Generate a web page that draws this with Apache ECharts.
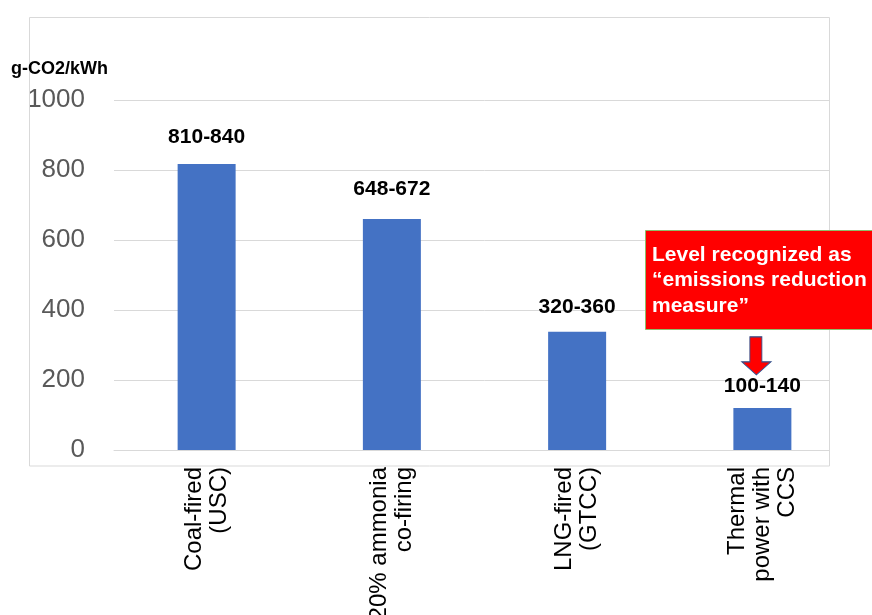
<!DOCTYPE html>
<html>
<head>
<meta charset="utf-8">
<script src="https://cdn.jsdelivr.net/npm/echarts@6/dist/echarts.min.js"></script>
<style>
html,body{margin:0;padding:0;background:#fff;}
#chart{width:872px;height:615px;}
</style>
</head>
<body>
<div id="chart"></div>
<script>
const categories = ["Coal-fired\n(USC)", "20% ammonia\nco-firing", "LNG-fired\n(GTCC)", "Thermal\npower with\nCCS"];
const emissions = [817, 660, 338, 120];
const rangeLabels = ["810-840", "648-672", "320-360", "100-140"];
const yTicks = { min: 0, max: 1000, interval: 200 };
const unitLabel = "g-CO2/kWh";
const calloutText = "Level recognized as\n\u201cemissions reduction\nmeasure\u201d";
const arrowTarget = { category: 3, value: 269 };

const FONT = "'Liberation Sans', Arial, sans-serif";
const labelGap = [16, 19, 14, 11];
const chart = echarts.init(document.getElementById('chart'), null, { renderer: 'canvas' });

const option = {
  animation: false,
  backgroundColor: '#ffffff',
  grid: { left: 114, top: 100, width: 741, height: 350, containLabel: false, outerBoundsMode: 'none' },
  xAxis: {
    type: 'category',
    data: categories,
    axisLine: { show: true, lineStyle: { color: '#d9d9d9', width: 1 } },
    axisTick: { show: false },
    axisLabel: {
      rotate: 90,
      margin: 17,
      interval: 0,
      fontFamily: FONT,
      fontSize: 24,
      lineHeight: 25,
      color: '#000000'
    }
  },
  yAxis: {
    type: 'value',
    min: yTicks.min,
    max: yTicks.max,
    interval: yTicks.interval,
    axisLine: { show: false },
    axisTick: { show: false },
    axisLabel: { margin: 29, fontFamily: FONT, fontSize: 26, color: '#595959', formatter: v => String(v) },
    splitLine: { lineStyle: { color: '#d9d9d9', width: 1 } }
  },
  series: [{
    type: 'bar',
    data: emissions.map((v, i) => ({ value: v, label: { distance: labelGap[i] } })),
    barWidth: 58,
    itemStyle: { color: '#4472C4' },
    label: {
      show: true,
      position: 'top',
      fontFamily: FONT,
      fontWeight: 'bold',
      fontSize: 21,
      color: '#000000',
      formatter: p => rangeLabels[p.dataIndex]
    },
    markPoint: {
      silent: true,
      data: [{
        coord: [arrowTarget.category, arrowTarget.value],
        symbol: 'path://M8,0 L20,0 L20,25 L29,25 L14.5,38 L0,25 L8,25 Z',
        symbolSize: [29, 38],
        symbolOffset: [-6, 0],
        itemStyle: { color: '#FF0000', borderColor: '#2F528F', borderWidth: 1 },
        label: { show: false }
      }]
    }
  }],
  graphic: [
    {
      type: 'rect', z: 50, silent: true,
      shape: { x: 830, y: 0, width: 42, height: 615 },
      style: { fill: '#ffffff' }
    },
    {
      type: 'rect', z: 51, silent: true,
      shape: { x: 29.5, y: 17.5, width: 800, height: 448.5 },
      style: { fill: 'none', stroke: '#d9d9d9', lineWidth: 1 }
    },
    {
      type: 'text', z: 52, silent: true,
      x: 11, y: 69,
      style: {
        text: unitLabel,
        font: 'bold 18px ' + FONT,
        fill: '#000000',
        verticalAlign: 'middle'
      }
    },
    {
      type: 'rect', z: 60, silent: true,
      shape: { x: 645.5, y: 230.5, width: 240, height: 99 },
      style: { fill: '#FF0000', stroke: '#8DBE6A', lineWidth: 1 }
    },
    {
      type: 'text', z: 61, silent: true,
      x: 652, y: 242,
      style: {
        text: calloutText,
        font: 'bold 21px ' + FONT,
        lineHeight: 25.5,
        fill: '#ffffff',
        verticalAlign: 'top'
      }
    }
  ]
};
chart.setOption(option);
</script>
</body>
</html>
